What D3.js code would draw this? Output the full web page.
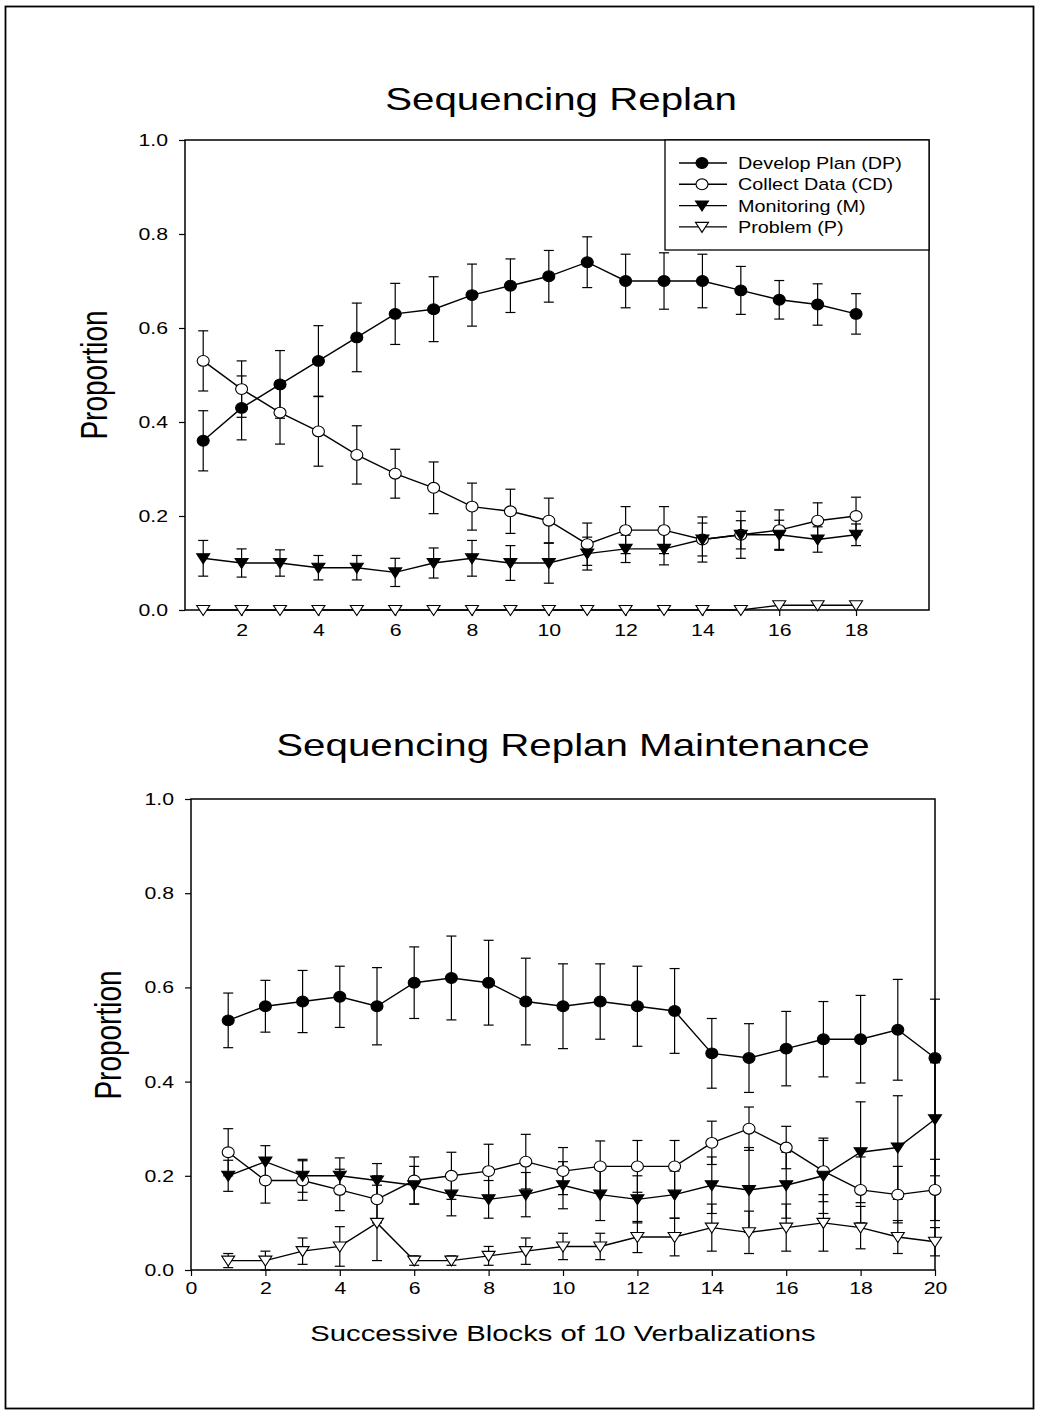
<!DOCTYPE html>
<html>
<head>
<meta charset="utf-8">
<script src="https://cdn.jsdelivr.net/npm/d3@7"></script>
<style>
  body { margin: 0; background: #fff; }
  svg text { font-family: "Liberation Sans", Arial, sans-serif; fill: #000; }
</style>
</head>
<body>
<div id="chart"></div>
<script>
// Proportion of verbalization categories across blocks, two panels

// --- panel 1: Sequencing Replan (blocks 1..18)
const blocks1 = d3.range(1, 19);
const dp1 = [0.36, 0.43, 0.48, 0.53, 0.58, 0.63, 0.64, 0.67, 0.69, 0.71, 0.74, 0.70, 0.70, 0.70, 0.68, 0.66, 0.65, 0.63];
const dp1Err = [0.064, 0.068, 0.072, 0.075, 0.073, 0.065, 0.069, 0.066, 0.057, 0.055, 0.054, 0.057, 0.06, 0.057, 0.051, 0.041, 0.044, 0.043];
const cd1 = [0.53, 0.47, 0.42, 0.38, 0.33, 0.29, 0.26, 0.22, 0.21, 0.19, 0.14, 0.17, 0.17, 0.15, 0.16, 0.17, 0.19, 0.20];
const cd1Err = [0.064, 0.06, 0.067, 0.074, 0.062, 0.052, 0.055, 0.05, 0.047, 0.048, 0.045, 0.05, 0.05, 0.048, 0.05, 0.043, 0.038, 0.04];
const m1 = [0.11, 0.10, 0.10, 0.09, 0.09, 0.08, 0.10, 0.11, 0.10, 0.10, 0.12, 0.13, 0.13, 0.15, 0.16, 0.16, 0.15, 0.16];
const m1Err = [0.038, 0.03, 0.028, 0.026, 0.026, 0.03, 0.032, 0.038, 0.037, 0.043, 0.035, 0.029, 0.034, 0.035, 0.03, 0.031, 0.027, 0.023];
const p1 = [0, 0, 0, 0, 0, 0, 0, 0, 0, 0, 0, 0, 0, 0, 0, 0.01, 0.01, 0.01];
const p1Err = [0, 0, 0, 0, 0, 0, 0, 0, 0, 0, 0, 0, 0, 0, 0, 0, 0, 0];

// --- panel 2: Sequencing Replan Maintenance (blocks 1..20)
const blocks2 = d3.range(1, 21);
const dp2 = [0.53, 0.56, 0.57, 0.58, 0.56, 0.61, 0.62, 0.61, 0.57, 0.56, 0.57, 0.56, 0.55, 0.46, 0.45, 0.47, 0.49, 0.49, 0.51, 0.45];
const dp2Err = [0.058, 0.055, 0.066, 0.065, 0.082, 0.076, 0.089, 0.09, 0.092, 0.09, 0.08, 0.085, 0.09, 0.074, 0.073, 0.079, 0.08, 0.093, 0.107, 0.125];
const cd2 = [0.25, 0.19, 0.19, 0.17, 0.15, 0.19, 0.20, 0.21, 0.23, 0.21, 0.22, 0.22, 0.22, 0.27, 0.30, 0.26, 0.21, 0.17, 0.16, 0.17];
const cd2Err = [0.05, 0.048, 0.042, 0.044, 0.05, 0.05, 0.05, 0.057, 0.058, 0.05, 0.054, 0.055, 0.055, 0.046, 0.046, 0.045, 0.065, 0.07, 0.06, 0.065];
const m2 = [0.20, 0.23, 0.20, 0.20, 0.19, 0.18, 0.16, 0.15, 0.16, 0.18, 0.16, 0.15, 0.16, 0.18, 0.17, 0.18, 0.20, 0.25, 0.26, 0.32];
const m2Err = [0.033, 0.034, 0.035, 0.038, 0.036, 0.04, 0.045, 0.04, 0.047, 0.05, 0.055, 0.05, 0.05, 0.06, 0.09, 0.07, 0.08, 0.107, 0.11, 0.12];
const p2 = [0.02, 0.02, 0.04, 0.05, 0.10, 0.02, 0.02, 0.03, 0.04, 0.05, 0.05, 0.07, 0.07, 0.09, 0.08, 0.09, 0.10, 0.09, 0.07, 0.06];
const p2Err = [0.015, 0.02, 0.028, 0.042, 0.08, 0.01, 0.01, 0.02, 0.028, 0.028, 0.028, 0.033, 0.04, 0.05, 0.045, 0.05, 0.06, 0.045, 0.035, 0.03];

const seriesNames = ['Develop Plan (DP)', 'Collect Data (CD)', 'Monitoring (M)', 'Problem (P)'];
const yTicks = [0, 0.2, 0.4, 0.6, 0.8, 1.0];
const xTicks1 = [2, 4, 6, 8, 10, 12, 14, 16, 18];
const xTicks2 = [0, 2, 4, 6, 8, 10, 12, 14, 16, 18, 20];

// marker styles per series: shape + fill
const markers = [
    { shape: 'circle', fill: '#000' },
    { shape: 'circle', fill: '#fff' },
    { shape: 'tri', fill: '#000' },
    { shape: 'tri', fill: '#fff' }
];

const W = 1038, H = 1412;
const SX = 1.25; // text in the original is drawn a bit wide

const svg = d3.select('#chart')
    .append('svg')
    .attr('width', W)
    .attr('height', H);

// outer border
svg.append('rect')
    .attr('x', 5.5).attr('y', 6.5)
    .attr('width', 1028).attr('height', 1402)
    .attr('fill', 'none').attr('stroke', '#000').attr('stroke-width', 1.8);

function drawMarker(g, m, cx, cy) {
    if (m.shape === 'circle') {
        g.append('ellipse')
            .attr('cx', cx).attr('cy', cy)
            .attr('rx', 6).attr('ry', 5.4)
            .attr('fill', m.fill).attr('stroke', '#000').attr('stroke-width', 1.1);
    } else {
        g.append('path')
            .attr('d', `M${cx - 6.5},${cy - 4.5}L${cx + 6.5},${cy - 4.5}L${cx},${cy + 5.5}Z`)
            .attr('fill', m.fill).attr('stroke', '#000').attr('stroke-width', 1.1);
    }
}

function drawPanel(cfg) {
    const { x, y, xs, series, xTicks, xPad, yLabelPos, title, frameX0 } = cfg;
    const g = svg.append('g');

    const x0 = frameX0, x1 = x.range()[1];
    const y0 = y(0), y1 = y(1);

    // frame
    g.append('rect')
        .attr('x', x0).attr('y', y1)
        .attr('width', x1 - x0).attr('height', y0 - y1)
        .attr('fill', 'none').attr('stroke', '#000').attr('stroke-width', 1.5);

    // y axis
    const yAxis = g.append('g')
        .attr('transform', `translate(${x0},0)`)
        .call(d3.axisLeft(y).tickValues(yTicks).tickSize(6).tickPadding(11).tickFormat(d3.format('.1f')));
    yAxis.select('.domain').remove();
    yAxis.selectAll('line').attr('stroke-width', 1.2);
    yAxis.selectAll('text')
        .attr('font-size', 17)
        .attr('font-family', null)
        .attr('transform', function () { return `translate(${d3.select(this).attr('x')},0) scale(${SX},1)`; })
        .attr('x', 0);

    // x axis
    const xAxis = g.append('g')
        .attr('transform', `translate(0,${y0})`)
        .call(d3.axisBottom(x).tickValues(xTicks).tickSize(6).tickPadding(xPad).tickFormat(d3.format('d')));
    xAxis.select('.domain').remove();
    xAxis.selectAll('line').attr('stroke-width', 1.2);
    xAxis.selectAll('text')
        .attr('font-size', 17)
        .attr('font-family', null)
        .attr('transform', `scale(${SX},1)`);

    // title
    g.append('text')
        .attr('transform', `translate(${title.x},${title.y}) scale(1.3,1)`)
        .attr('text-anchor', 'middle')
        .attr('font-size', 31)
        .text(title.text);

    // y label
    g.append('text')
        .attr('transform', `translate(${yLabelPos.x},${yLabelPos.y}) scale(1.3,1) rotate(-90)`)
        .attr('text-anchor', 'middle')
        .attr('font-size', 28)
        .text('Proportion');

    const line = d3.line().x((d, i) => x(xs[i])).y(d => y(d));

    series.forEach((s, si) => {
        const sg = g.append('g');
        // error bars
        s.vals.forEach((v, i) => {
            const e = s.err[i];
            if (!e) return;
            const cx = x(xs[i]);
            const yt = y(v + e), yb = y(v - e);
            sg.append('line').attr('x1', cx).attr('x2', cx).attr('y1', yt).attr('y2', yb)
                .attr('stroke', '#000').attr('stroke-width', 1.2);
            [yt, yb].forEach(yy => {
                sg.append('line').attr('x1', cx - 5).attr('x2', cx + 5).attr('y1', yy).attr('y2', yy)
                    .attr('stroke', '#000').attr('stroke-width', 1.2);
            });
        });
        sg.append('path')
            .attr('d', line(s.vals))
            .attr('fill', 'none').attr('stroke', '#000').attr('stroke-width', 1.4);
    });
    // markers on top
    series.forEach((s, si) => {
        const mg = g.append('g');
        s.vals.forEach((v, i) => drawMarker(mg, markers[si], x(xs[i]), y(v)));
    });
    return g;
}

// panel 1
const xScale1 = d3.scaleLinear().domain([0.5, 19.9]).range([184, 929]);
const yScale1 = d3.scaleLinear().domain([0, 1]).range([610, 140]);
drawPanel({
    x: xScale1, y: yScale1, xs: blocks1, frameX0: 185,
    xTicks: xTicks1, xPad: 8,
    title: { text: 'Sequencing Replan', x: 561, y: 110 },
    yLabelPos: { x: 107, y: 375 },
    series: [
        { vals: dp1, err: dp1Err },
        { vals: cd1, err: cd1Err },
        { vals: m1, err: m1Err },
        { vals: p1, err: p1Err }
    ]
});

// legend for panel 1
const legend = svg.append('g');
legend.append('rect')
    .attr('x', 665).attr('y', 140)
    .attr('width', 929 - 665).attr('height', 110)
    .attr('fill', '#fff').attr('stroke', '#000').attr('stroke-width', 1.3);
seriesNames.forEach((name, i) => {
    const ly = 163 + i * 21.3;
    legend.append('line')
        .attr('x1', 679).attr('x2', 727).attr('y1', ly).attr('y2', ly)
        .attr('stroke', '#000').attr('stroke-width', 1.4);
    drawMarker(legend, markers[i], 702, ly);
    legend.append('text')
        .attr('transform', `translate(738,${ly + 6}) scale(1.2,1)`)
        .attr('font-size', 16.5)
        .text(name);
});

// panel 2
const xScale2 = d3.scaleLinear().domain([0, 20]).range([191, 935]);
const yScale2 = d3.scaleLinear().domain([0, 1]).range([1270, 799]);
drawPanel({
    x: xScale2, y: yScale2, xs: blocks2, frameX0: 191,
    xTicks: xTicks2, xPad: 6,
    title: { text: 'Sequencing Replan Maintenance', x: 573, y: 756 },
    yLabelPos: { x: 121, y: 1035 },
    series: [
        { vals: dp2, err: dp2Err },
        { vals: cd2, err: cd2Err },
        { vals: m2, err: m2Err },
        { vals: p2, err: p2Err }
    ]
});

// x axis title
svg.append('text')
    .attr('transform', 'translate(563,1341) scale(1.3,1)')
    .attr('text-anchor', 'middle')
    .attr('font-size', 22.5)
    .text('Successive Blocks of 10 Verbalizations');
</script>
</body>
</html>
